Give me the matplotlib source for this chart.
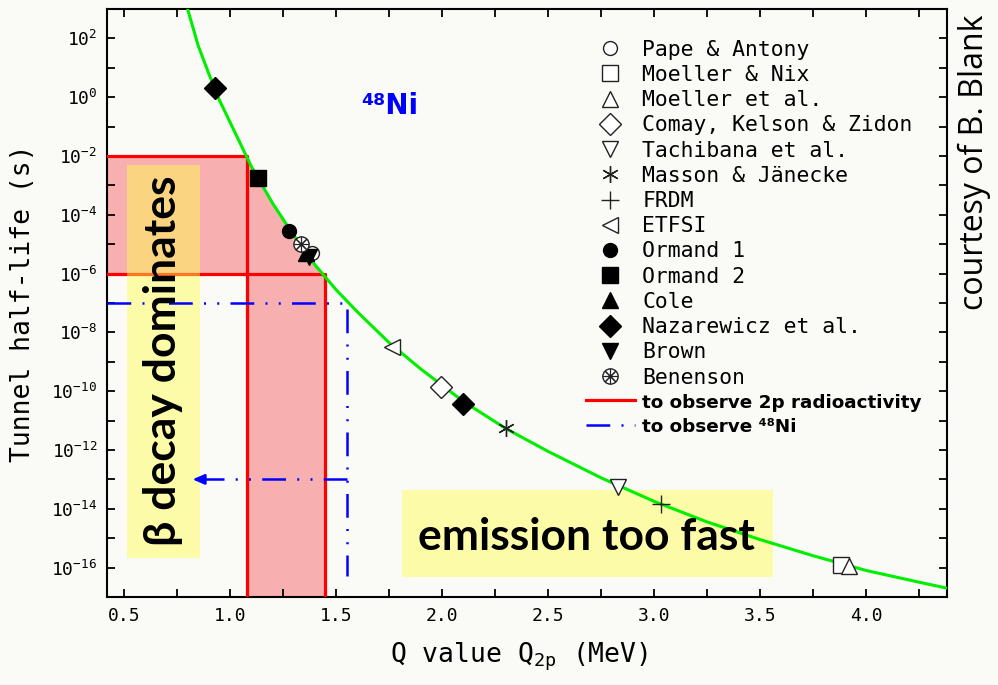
import numpy as np
import matplotlib
matplotlib.use("Agg")
import matplotlib.pyplot as plt
from matplotlib.patches import Rectangle
from matplotlib.lines import Line2D
from matplotlib.legend_handler import HandlerTuple

# green tunnelling curve: Q (MeV), log10 half-life (s)
curve_q = [0.80, 0.85, 0.90, 0.95, 1.00, 1.10, 1.20, 1.30, 1.40, 1.50, 1.60,
           1.75, 1.90, 2.10, 2.30, 2.50, 2.75, 3.00, 3.25, 3.50, 3.75, 4.00,
           4.25, 4.38]
curve_logt = [3.0, 1.75, 0.8, -0.1, -0.85, -2.35, -3.6, -4.7, -5.7, -6.55,
              -7.3, -8.35, -9.25, -10.35, -11.27, -12.05, -12.95, -13.75,
              -14.45, -15.05, -15.6, -16.1, -16.5, -16.7]

# predictions: (label, marker, filled, Q values, log10 half-life)
predictions = [
    ("Pape & Antony", "o", False, [1.385], [-5.3]),
    ("Moeller & Nix", "s", False, [3.88], [-15.9]),
    ("Moeller et al.", "^", False, [3.92], [-15.95]),
    ("Comay, Kelson & Zidon", "D", False, [1.995], [-9.85]),
    ("Tachibana et al.", "v", False, [2.83], [-13.25]),
    ("Masson & Jänecke", (6, 2, 0), False, [2.30], [-11.25]),
    ("FRDM", "+", False, [3.03], [-13.85]),
    ("ETFSI", "<", False, [1.765], [-8.5]),
    ("Ormand 1", "o", True, [1.28], [-4.55]),
    ("Ormand 2", "s", True, [1.13], [-2.75]),
    ("Cole", "^", True, [1.36], [-5.3]),
    ("Nazarewicz et al.", "D", True, [0.93, 2.10], [0.30, -10.45]),
    ("Brown", "v", True, [1.37], [-5.45]),
]
benenson_q = [1.335]
benenson_logt = [-5.0]

marker_size = {"o": 10, "s": 11, "^": 11, "v": 11, "<": 11, "D": 11, "+": 13}

# observation windows
red_t_hi, red_q_hi = 1e-2, 1.08
red_t_lo, red_q_lo = 1e-6, 1.45
blue_t, blue_q = 1e-7, 1.55
arrow_t, arrow_q = 1e-13, 0.81

x_ticks = [0.5, 1.0, 1.5, 2.0, 2.5, 3.0, 3.5, 4.0]
x_minor = np.arange(0.75, 4.3, 0.5)
y_exp = list(range(-16, 3, 2))

xmin, xmax = 0.42, 4.38
ymin, ymax = 1e-17, 1e3

bg = "#fafaf6"
mono = "DejaVu Sans Mono"
plt.rcParams["font.family"] = mono
plt.rcParams["mathtext.fontset"] = "custom"
plt.rcParams["mathtext.rm"] = mono
plt.rcParams["mathtext.it"] = mono
plt.rcParams["mathtext.default"] = "regular"

fig = plt.figure(figsize=(9.98, 6.85), dpi=100, facecolor=bg)
ax = fig.add_axes([0.1072, 0.1285, 0.8417, 0.8584], facecolor=bg)
ax.set_yscale("log")
ax.set_xlim(xmin, xmax)
ax.set_ylim(ymin, ymax)

q = np.array(curve_q)
t = 10 ** np.array(curve_logt)

# pink region
pink = "#f8afaf"
ax.fill_between([xmin, red_q_hi], red_t_lo, red_t_hi, color=pink, lw=0, zorder=1)
ax.fill_between([red_q_hi, red_q_lo], ymin, red_t_lo, color=pink, lw=0, zorder=1)
qs = np.linspace(red_q_hi, 1.433, 30)
ts = np.clip(10 ** np.interp(qs, q, curve_logt), red_t_lo, red_t_hi)
ax.fill_between(qs, red_t_lo, ts, color=pink, lw=0, zorder=1)

# red lines
ax.plot([xmin, red_q_hi, red_q_hi], [red_t_hi, red_t_hi, ymin], color="red", lw=2.3, zorder=3)
ax.plot([xmin, red_q_lo, red_q_lo], [red_t_lo, red_t_lo, ymin], color="red", lw=2.3, zorder=3)

# yellow boxes
yellow = "#ffff50"
ax.add_patch(Rectangle((0.0238, 0.0663), 0.0869, 0.668, transform=ax.transAxes,
                       facecolor=yellow, alpha=0.47, lw=0, zorder=4))
ax.add_patch(Rectangle((0.351, 0.034), 0.4417, 0.148, transform=ax.transAxes,
                       facecolor=yellow, alpha=0.47, lw=0, zorder=4))

# blue dash-dot-dot lines
dd = (0, (9.5, 4.5, 0.8, 4.5, 0.8, 4.5))
ax.plot([xmin, blue_q, blue_q], [blue_t, blue_t, 10 ** -16.3], color="blue", lw=1.8,
        ls=dd, zorder=5)
ax.plot([blue_q, arrow_q + 0.06], [arrow_t, arrow_t], color="blue", lw=1.8, ls=dd, zorder=5)
ax.annotate("", xy=(arrow_q, arrow_t), xytext=(arrow_q + 0.07, arrow_t),
            arrowprops=dict(arrowstyle="-|>,head_length=0.7,head_width=0.3",
                            color="blue", lw=1.8), zorder=5)

# curve
ax.plot(q, t, color="#00ee00", lw=2.2, zorder=6)

# data points
handles = []
for label, m, filled, xs, ls_ in predictions:
    ms = marker_size.get(m, 12)
    if filled:
        kw = dict(mfc="black", mec="black")
    else:
        kw = dict(mfc="white" if m != "+" and not isinstance(m, tuple) else "none",
                  mec="#222222", mew=1.0)
    h, = ax.plot(xs, 10 ** np.array(ls_), ls="none", marker=m, ms=ms, zorder=7, **kw)
    handles.append(h)
ben_c, = ax.plot(benenson_q, 10 ** np.array(benenson_logt), ls="none", marker="o", ms=11,
                 mfc="white", mec="#222222", mew=1.0, zorder=7)
ben_s, = ax.plot(benenson_q, 10 ** np.array(benenson_logt), ls="none", marker=(8, 2, 0),
                 ms=11, mec="#222222", mew=0.8, zorder=8)
handles.append((ben_c, ben_s))
labels = [p[0] for p in predictions] + ["Benenson"]

red_h = Line2D([], [], color="red", lw=2.3)
blue_h = Line2D([], [], color="blue", lw=1.8, ls=dd)
handles += [red_h, blue_h]
labels += ["to observe 2p radioactivity", "to observe ⁴⁸Ni"]

leg = ax.legend(handles, labels, loc="upper left", bbox_to_anchor=(0.570, 0.948),
                frameon=False, fontsize=15.4, handlelength=2.3, handletextpad=0.35,
                labelspacing=0.245, borderpad=0, borderaxespad=0,
                handler_map={tuple: HandlerTuple(ndivide=1, pad=0)})
for txt in leg.get_texts()[-2:]:
    txt.set_fontweight("bold")
    txt.set_fontsize(13.2)
    txt.set_family("DejaVu Sans")
leg.set_zorder(9)

# annotations
ax.text(1.62, 10 ** -0.3, "⁴⁸Ni", color="blue", fontweight="bold", fontsize=20,
        ha="left", va="center", family="DejaVu Sans", zorder=9)
ax.text(0.0667, 0.401, "β decay dominates", transform=ax.transAxes, rotation=90,
        ha="center", va="center", fontsize=32, fontweight="bold", family="Lato", zorder=9)
ax.text(0.571, 0.102, "emission too fast", transform=ax.transAxes,
        ha="center", va="center", fontsize=32, fontweight="bold", family="Lato", zorder=9)
fig.text(0.976, 0.763, "courtesy of B. Blank", rotation=90, ha="center", va="center",
         fontsize=23, family="Open Sans")

# axes, ticks
ax.set_xticks(x_ticks)
ax.set_xticklabels([f"{v:.1f}" for v in x_ticks])
ax.set_xticks(x_minor, minor=True)
ax.set_yticks([10.0 ** e for e in y_exp])
ax.set_yticklabels([f"$10^{{{e}}}$" for e in y_exp])
ax.set_yticks([10.0 ** e for e in range(-17, 3, 2)], minor=True)
ax.yaxis.set_minor_formatter(plt.NullFormatter())
ax.tick_params(which="both", direction="in", top=True, right=True, length=6,
               width=1.3, labelsize=13, pad=7)
for s in ax.spines.values():
    s.set_linewidth(1.5)

ax.set_xlabel("Q value Q$_{2p}$ (MeV)", fontsize=19)
ax.xaxis.set_label_coords(0.49, -0.075)
ax.set_ylabel("Tunnel half-life (s)", fontsize=19)
ax.yaxis.set_label_coords(-0.085, 0.5)

fig.savefig("out.png", dpi=100, facecolor=bg)
